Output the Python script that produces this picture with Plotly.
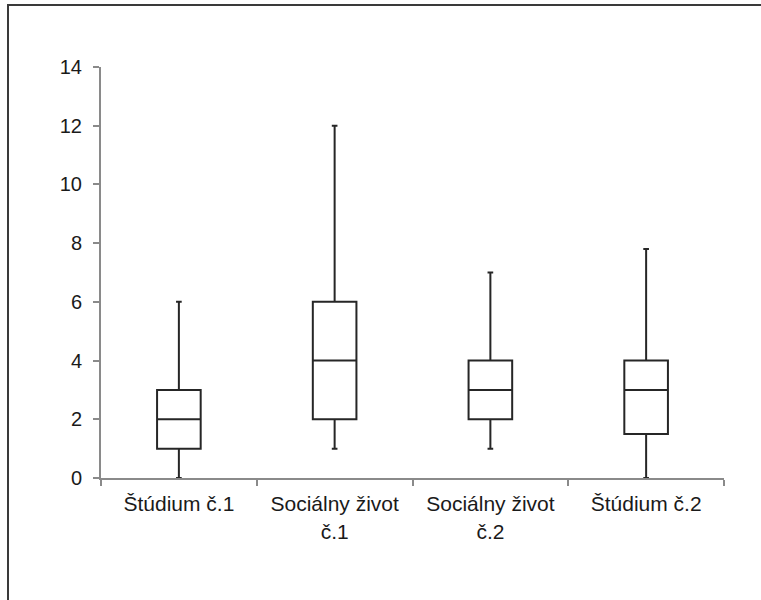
import plotly.graph_objects as go

categories = ["Štúdium č.1", "Sociálny život<br>č.1", "Sociálny život<br>č.2", "Štúdium č.2"]
lower_fence = [0, 1, 1, 0]
q1_values = [1, 2, 2, 1.5]
median_values = [2, 4, 3, 3]
q3_values = [3, 6, 4, 4]
upper_fence = [6, 12, 7, 7.8]
y_ticks = [0, 2, 4, 6, 8, 10, 12, 14]

fig = go.Figure()
fig.add_trace(go.Box(
    x=categories,
    q1=q1_values,
    median=median_values,
    q3=q3_values,
    lowerfence=lower_fence,
    upperfence=upper_fence,
    fillcolor="white",
    line=dict(color="#262626", width=2),
    whiskerwidth=0.13,
    boxpoints=False,
    hoverinfo="skip",
    showlegend=False,
))

W, H = 761, 600
ml, mr, mt, mb = 101, 37, 67, 122
pw = W - ml - mr
ph = H - mt - mb


def px_x(p):
    return (p - ml) / pw


def px_y(p):
    return (H - mb - p) / ph


frame = dict(color="#3a3a3a", width=2)

fig.update_layout(
    width=W, height=H,
    margin=dict(l=ml, r=mr, t=mt, b=mb, pad=0),
    paper_bgcolor="white",
    plot_bgcolor="white",
    boxgap=0.6,
    font=dict(family="Arial, Liberation Sans, sans-serif", size=20, color="#1a1a1a"),
    xaxis=dict(
        type="category",
        showgrid=False,
        showline=True, linecolor="#8a8a8a", linewidth=2,
        ticks="outside", tickson="boundaries", ticklen=6, tickcolor="#8a8a8a", tickwidth=2,
        tickfont=dict(size=21),
        ticklabelstandoff=6,
        zeroline=False,
        fixedrange=True,
    ),
    yaxis=dict(
        range=[0, 14],
        tickvals=y_ticks,
        showgrid=False,
        showline=True, linecolor="#8a8a8a", linewidth=2,
        ticks="outside", ticklen=6, tickcolor="#8a8a8a", tickwidth=2,
        tickfont=dict(size=20),
        ticklabelstandoff=7,
        zeroline=False,
        fixedrange=True,
    ),
    shapes=[
        dict(type="line", xref="paper", yref="paper",
             x0=px_x(8), x1=px_x(8), y0=px_y(4), y1=px_y(605), line=frame),
        dict(type="line", xref="paper", yref="paper",
             x0=px_x(7), x1=px_x(770), y0=px_y(5), y1=px_y(5), line=frame),
    ],
)

fig.write_html(
    "out.html", config={"displayModeBar": False},
    post_script=("document.body.style.margin='0px';"
                 "document.body.style.overflow='hidden';"
                 "document.documentElement.style.overflow='hidden';"),
)
